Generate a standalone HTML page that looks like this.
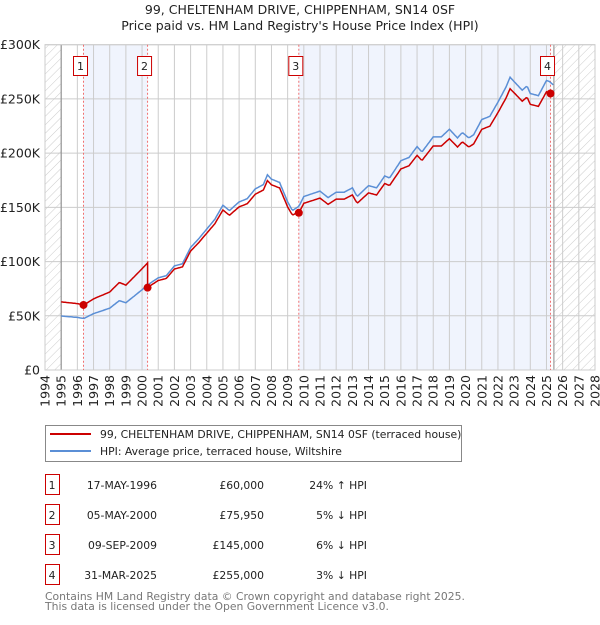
<!DOCTYPE html>
<html><head><meta charset="utf-8"><style>
body{margin:0;background:#fff;font-family:"Liberation Sans","DejaVu Sans",sans-serif;}
svg text{font-family:"DejaVu Sans","Liberation Sans",sans-serif;}
</style></head><body>
<svg id="c" width="600" height="620" xmlns="http://www.w3.org/2000/svg">
<defs><pattern id="h" width="6" height="6" patternUnits="userSpaceOnUse" patternTransform="rotate(45)"><line x1="0" y1="0" x2="0" y2="6" stroke="#ccc" stroke-width="1"/></pattern></defs>
<text x="300" y="14" text-anchor="middle" font-size="12.5" fill="#222">99, CHELTENHAM DRIVE, CHIPPENHAM, SN14 0SF</text>
<text x="300" y="30" text-anchor="middle" font-size="12.5" fill="#222">Price paid vs. HM Land Registry's House Price Index (HPI)</text>
<g id="plot"></g>
<g>
<rect x="45.5" y="425.5" width="416" height="36" fill="#fff" stroke="#888"/>
<line x1="50" y1="434" x2="91" y2="434" stroke="#cc0000" stroke-width="2"/>
<text x="100" y="438" font-size="10.8" fill="#222">99, CHELTENHAM DRIVE, CHIPPENHAM, SN14 0SF (terraced house)</text>
<line x1="50" y1="451" x2="91" y2="451" stroke="#5b8fd6" stroke-width="2"/>
<text x="100" y="455" font-size="10.8" fill="#222">HPI: Average price, terraced house, Wiltshire</text>
</g>
<g id="tbl" font-size="10.8" fill="#222"></g>
<text x="45" y="600" font-size="10.8" fill="#777">Contains HM Land Registry data © Crown copyright and database right 2025.</text>
<text x="45" y="610" font-size="10.8" fill="#777">This data is licensed under the Open Government Licence v3.0.</text>
</svg>
<script>
const hpiYears=[1995,1996,1996.4,1997,1998,1998.6,1999,2000,2000.4,2001,2001.5,2002,2002.5,2003,2003.5,2004,2004.5,2005,2005.4,2006,2006.5,2007,2007.5,2007.75,2008,2008.5,2009,2009.3,2009.7,2010,2011,2011.5,2012,2012.5,2013,2013.3,2014,2014.5,2015,2015.3,2016,2016.5,2017,2017.3,2018,2018.5,2019,2019.5,2019.8,2020.2,2020.5,2021,2021.5,2022,2022.5,2022.75,2023,2023.5,2023.8,2024,2024.5,2025,2025.2,2025.4];
const hpiValues=[49.8,48.5,47.5,52,57,64,62,74,79,85,87,96,98,113,121,130,139,152,147,155,158,167,171,180,176,173,155,147,151,160,165,159,164,164,168,160,170,168,179,177,193,196,206,201,215,215,222,214,219,214,217,231,234,247,261,270,266,258,262,255,253,267,266,263];
const saleLabels=["1","2","3","4"];
const saleYears=[1996.38,2000.34,2009.69,2025.25];
const salePrices=[60,75.95,145,255];
const saleDates=["17-MAY-1996","05-MAY-2000","09-SEP-2009","31-MAR-2025"];
const salePriceText=["£60,000","£75,950","£145,000","£255,000"];
const saleHpiText=["24% ↑ HPI","5% ↓ HPI","6% ↓ HPI","3% ↓ HPI"];
const yTicks=[0,50,100,150,200,250,300];
const yTickLabels=["£0","£50K","£100K","£150K","£200K","£250K","£300K"];
const xTicks=[1994,1995,1996,1997,1998,1999,2000,2001,2002,2003,2004,2005,2006,2007,2008,2009,2010,2011,2012,2013,2014,2015,2016,2017,2018,2019,2020,2021,2022,2023,2024,2025,2026,2027,2028];
const L=45,R=595,T=44.7,B=370,X0=1994,X1=2028,YM=300,dataEnd=2025.46;
const X=v=>L+(v-X0)/(X1-X0)*(R-L), Y=v=>B-v/YM*(B-T);
const NS="http://www.w3.org/2000/svg";
function mk(p,t,a){const e=document.createElementNS(NS,t);for(const k in a)e.setAttribute(k,a[k]);p.appendChild(e);return e;}
function hpiAt(t){if(t<=hpiYears[0])return hpiValues[0];for(let i=1;i<hpiYears.length;i++){if(t<=hpiYears[i]){const f=(t-hpiYears[i-1])/(hpiYears[i]-hpiYears[i-1]);return hpiValues[i-1]+f*(hpiValues[i]-hpiValues[i-1]);}}return hpiValues[hpiValues.length-1];}
const g=document.getElementById('plot');
mk(g,'rect',{x:L,y:T,width:R-L,height:B-T,fill:'#fff'});
for(const [a,b] of [[0,1],[2,3]]){const r=mk(g,'rect',{x:X(saleYears[a]),y:T,width:X(saleYears[b])-X(saleYears[a]),height:B-T,fill:'#f0f4fd'});

}
const h1=mk(g,'rect',{x:L,y:T,width:X(1995)-L,height:B-T,fill:'url(#h)'});


const h2=mk(g,'rect',{x:X(dataEnd),y:T,width:R-X(dataEnd),height:B-T,fill:'url(#h)'});


xTicks.forEach(y=>{const l=mk(g,'line',{x1:X(y),x2:X(y),y1:T,y2:B,stroke:'#ccc'});


const t=mk(g,'text',{x:0,y:0,transform:`translate(${X(y)+4.5},${B+5}) rotate(-90)`,'text-anchor':'end','font-size':'12.5',fill:'#222'});t.textContent=y;

});
yTicks.forEach((v,i)=>{const l=mk(g,'line',{x1:L,x2:R,y1:Y(v),y2:Y(v),stroke:'#ccc'});


const t=mk(g,'text',{x:40,y:Y(v)+4.5,'text-anchor':'end','font-size':'12.5',fill:'#222'});t.textContent=yTickLabels[i];

});
[X(1995),X(dataEnd)].forEach(x=>{const l=mk(g,'line',{x1:x,x2:x,y1:T,y2:B,stroke:'#888'});

});
mk(g,'rect',{x:L,y:T,width:R-L,height:B-T,fill:'none',stroke:'#ccc'});
saleYears.forEach((s,i)=>{const l=mk(g,'line',{x1:X(s),x2:X(s),y1:T,y2:B,stroke:'#f07070','stroke-dasharray':'2,2'});


const bx=X(s)-10;
const r=mk(g,'rect',{x:bx,y:56.5,width:14,height:19,fill:'#fff',stroke:'#cc0000'});


const t=mk(g,'text',{x:bx+7,y:70,'text-anchor':'middle','font-size':'11',fill:'#222'});t.textContent=saleLabels[i];

});
const ts=[];for(let t=1995;t<=dataEnd+1e-6;t+=1/12)ts.push(t);
const hp=ts.map(t=>`${X(t).toFixed(1)},${Y(hpiAt(t)).toFixed(1)}`).join(' ');
const hl=mk(g,'polyline',{points:hp,fill:'none',stroke:'#5b8fd6','stroke-width':1.5});


const redPts=[];ts.forEach(t=>{let k=0;for(let i=0;i<saleYears.length;i++)if(t>=saleYears[i])k=i;
redPts.push([t,salePrices[k]*hpiAt(t)/hpiAt(saleYears[k])]);});
saleYears.forEach((s,i)=>{if(i>0){redPts.push([s-1e-4,salePrices[i-1]*hpiAt(s)/hpiAt(saleYears[i-1])]);}redPts.push([s,salePrices[i]]);});
redPts.sort((a,b)=>a[0]-b[0]);
const rl=mk(g,'polyline',{points:redPts.map(p=>`${X(p[0]).toFixed(1)},${Y(p[1]).toFixed(1)}`).join(' '),fill:'none',stroke:'#cc0000','stroke-width':1.5});


saleYears.forEach((s,i)=>{const c=mk(g,'circle',{cx:X(s),cy:Y(salePrices[i]),r:4,fill:'#cc0000'});

});
const tb=document.getElementById('tbl');
saleYears.forEach((s,i)=>{const y=485+i*30;
const r=mk(tb,'rect',{x:45.5,y:y-10.5,width:14,height:20,fill:'#fff',stroke:'#cc0000'});


const cols=[[52,saleLabels[i],'middle'],[157,saleDates[i],'end'],[264,salePriceText[i],'end'],[367,saleHpiText[i],'end']];
cols.forEach(([x,txt,a],j)=>{const t=mk(tb,'text',{x:x,y:y+4,'text-anchor':a});t.textContent=txt;

});});
</script>
</body></html>
